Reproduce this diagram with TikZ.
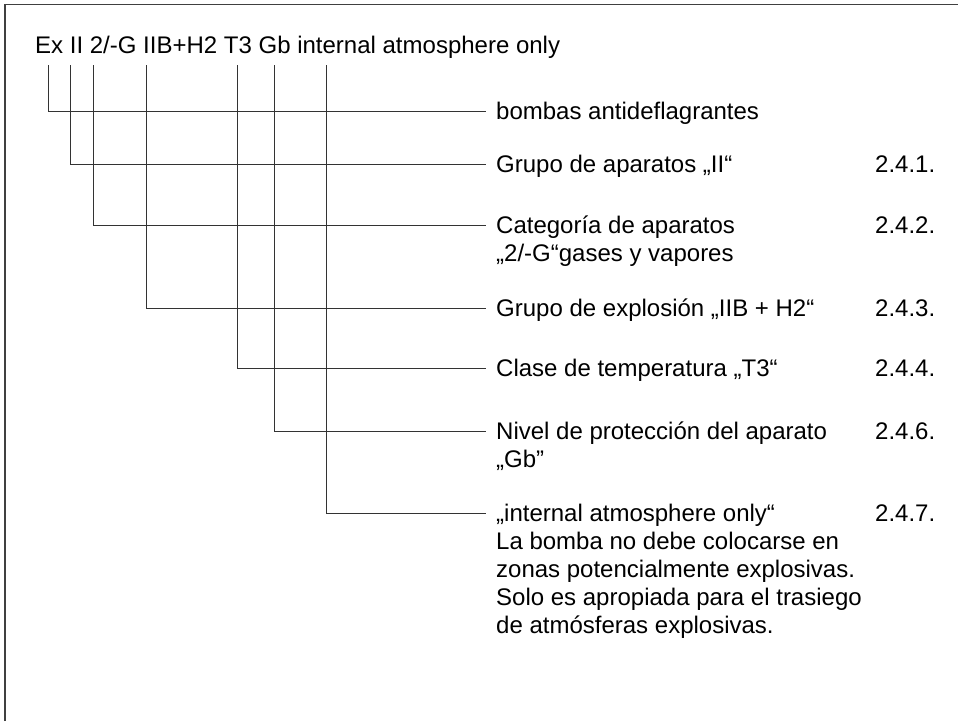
\documentclass[tikz,border=0pt]{standalone}
\usepackage{fontspec}
\setmainfont{Liberation Sans}
\begin{document}
\begin{tikzpicture}[x=1pt,y=-1pt,
  wire/.style={draw=black!80,line width=1pt},
  frameline/.style={draw=black!75,line width=1.2pt},
  lab/.style={anchor=base west,inner sep=0pt,font=\fontsize{24}{28}\selectfont},
  num/.style={anchor=base west,inner sep=0pt,font=\fontsize{24}{28}\selectfont}]
\useasboundingbox (0,0) rectangle (958,721);
\newcommand{\ml}[1]{\parbox[t]{420pt}{\fontsize{24}{28}\selectfont\raggedright #1}}
% frame (top and left edges)
\draw[frameline] (5,721) -- (5,4.5) -- (958,4.5);
% title
\node[lab] (title) at (35,53) {Ex II 2/-G IIB+H2 T3 Gb internal atmosphere only};
% tap points under the title
\coordinate (t1) at (48.3,65);
\coordinate (t2) at (70.3,65);
\coordinate (t3) at (93,65);
\coordinate (t4) at (146,65);
\coordinate (t5) at (237,65);
\coordinate (t6) at (274,65);
\coordinate (t7) at (326.7,65);
% labels
\node[lab] (l1) at (496,119.6) {bombas antideflagrantes};
\node[lab] (l2) at (496,172.6) {Grupo de aparatos „II“};
\node[lab] (l3) at (496,233.6) {\ml{Categoría de aparatos\\„2/-G“gases y vapores}};
\node[lab] (l4) at (496,316.6) {Grupo de explosión „IIB + H2“};
\node[lab] (l5) at (496,376.6) {Clase de temperatura „T3“};
\node[lab] (l6) at (496,439.6) {\ml{Nivel de protección del aparato\\„Gb”}};
\node[lab] (l7) at (496,521.6) {\ml{„internal atmosphere only“\\La bomba no debe colocarse en\\zonas potencialmente explosivas.\\Solo es apropiada para el trasiego\\de atmósferas explosivas.}};
% numbers
\node[num] (n2) at (875,172.6) {2.4.1.};
\node[num] (n3) at (875,233.6) {2.4.2.};
\node[num] (n4) at (875,316.6) {2.4.3.};
\node[num] (n5) at (875,376.6) {2.4.4.};
\node[num] (n6) at (875,439.6) {2.4.6.};
\node[num] (n7) at (875,521.6) {2.4.7.};
% connectors
\draw[wire] (t1) |- ([xshift=-10pt,yshift=8.6pt]l1.base west);
\draw[wire] (t2) |- ([xshift=-10pt,yshift=8.6pt]l2.base west);
\draw[wire] (t3) |- ([xshift=-10pt,yshift=8.6pt]l3.base west);
\draw[wire] (t4) |- ([xshift=-10pt,yshift=8.6pt]l4.base west);
\draw[wire] (t5) |- ([xshift=-10pt,yshift=8.6pt]l5.base west);
\draw[wire] (t6) |- ([xshift=-10pt,yshift=8.6pt]l6.base west);
\draw[wire] (t7) |- ([xshift=-10pt,yshift=8.6pt]l7.base west);
\end{tikzpicture}
\end{document}
